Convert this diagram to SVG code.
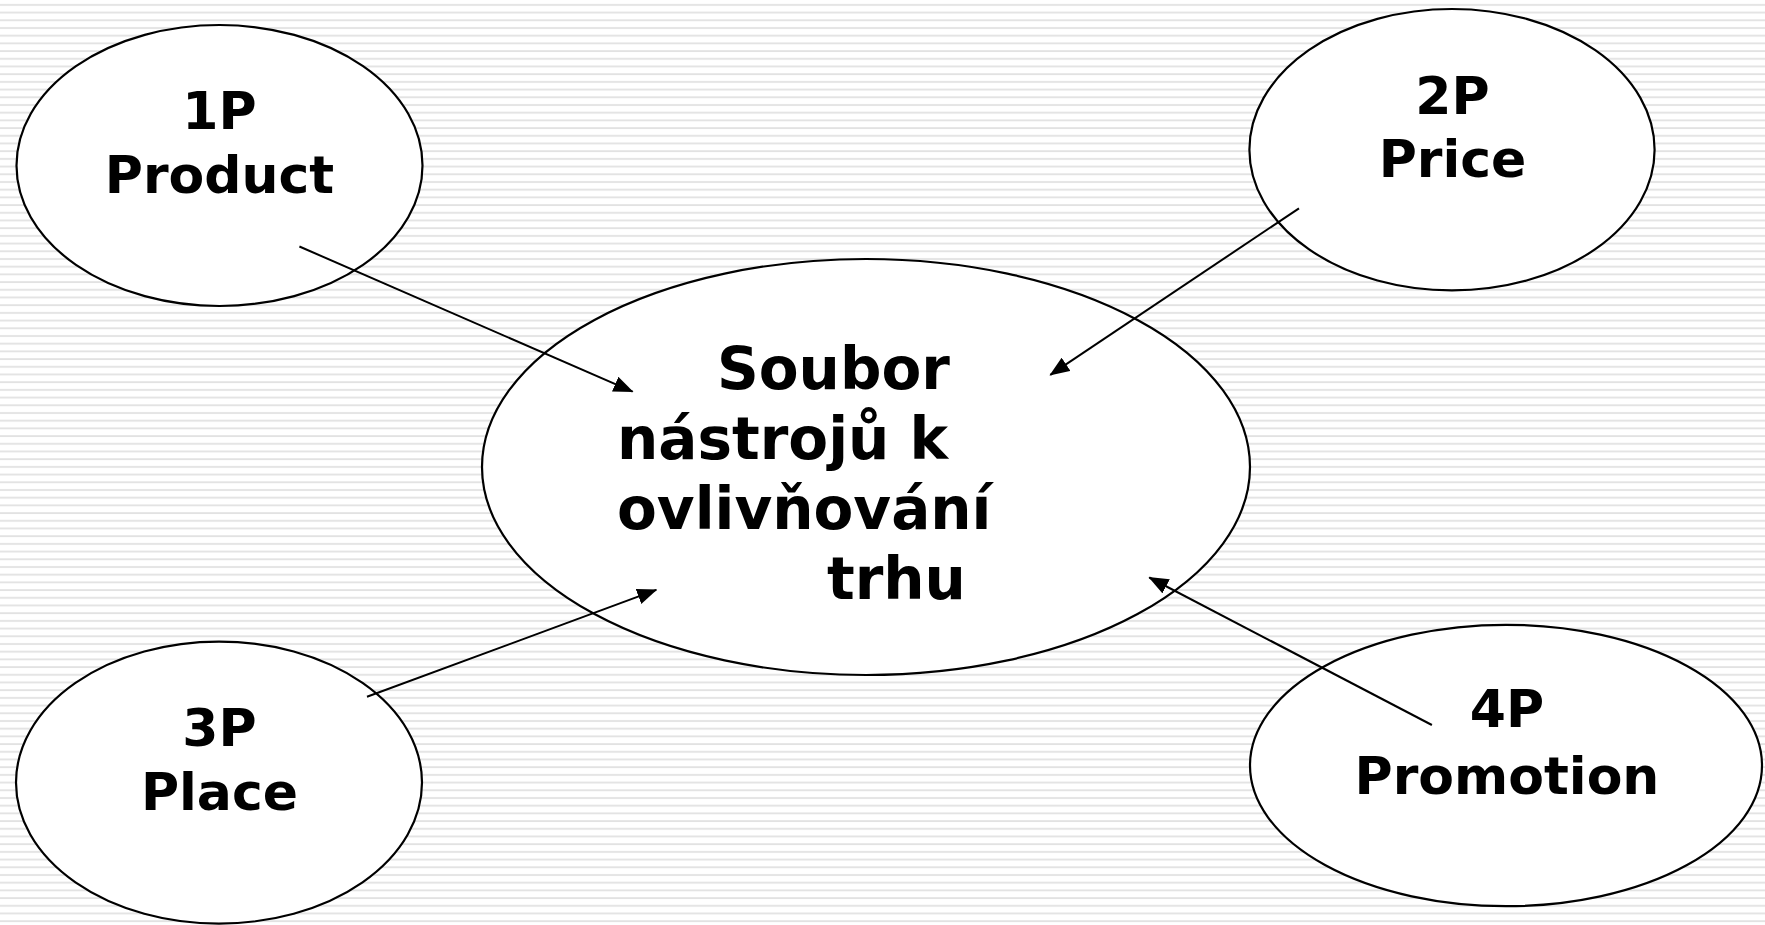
<svg xmlns="http://www.w3.org/2000/svg" width="1765" height="925" viewBox="0 0 1765 925">
<defs>
<pattern id="stripes" patternUnits="userSpaceOnUse" x="0" y="0" width="20" height="7.7">
<rect x="0" y="0" width="20" height="7.7" fill="#ffffff"/>
<rect x="0" y="4" width="20" height="1.8" fill="#e2e2e2"/>
</pattern>
<marker id="arr" viewBox="0 0 20 16" refX="19" refY="8" markerWidth="20" markerHeight="16" markerUnits="userSpaceOnUse" orient="auto">
<path d="M0,0 L20,8 L0,16 Z" fill="#000"/>
</marker>
<style>
.node ellipse{fill:#fff;stroke:#000;stroke-width:2.2}
.t{font-family:"DejaVu Sans","Verdana",sans-serif;font-weight:bold;fill:#000}
.s{font-size:52px;text-anchor:middle}
.c{font-size:58px}
.conn line{stroke:#000;stroke-width:2;marker-end:url(#arr)}
</style>
</defs>
<rect x="0" y="0" width="1765" height="925" fill="url(#stripes)"/>
<g id="node-center" class="node">
<ellipse cx="866" cy="467" rx="384" ry="208"/>
<text class="t c" x="717" y="389">Soubor</text>
<text class="t c" x="617" y="459">nástrojů k</text>
<text class="t c" x="617" y="529">ovlivňování</text>
<text class="t c" x="827" y="599">trhu</text>
</g>
<g id="node-1p" class="node">
<ellipse cx="219.5" cy="165.5" rx="203" ry="140.5"/>
<text class="t s" x="219.5" y="129">1P</text>
<text class="t s" x="219.5" y="193">Product</text>
</g>
<g id="node-2p" class="node">
<ellipse cx="1452" cy="149.7" rx="202.6" ry="140.7"/>
<text class="t s" x="1452.5" y="114">2P</text>
<text class="t s" x="1452.5" y="177">Price</text>
</g>
<g id="node-3p" class="node">
<ellipse cx="219" cy="782.6" rx="203" ry="141"/>
<text class="t s" x="219.5" y="746">3P</text>
<text class="t s" x="219.5" y="810">Place</text>
</g>
<g id="node-4p" class="node">
<ellipse cx="1506" cy="765.5" rx="256" ry="140.7"/>
<text class="t s" x="1507" y="727">4P</text>
<text class="t s" x="1507" y="794">Promotion</text>
</g>
<g id="connectors" class="conn">
<line x1="299.4" y1="246.5" x2="632.6" y2="391.7"/>
<line x1="1299" y1="208.3" x2="1050.3" y2="374.9"/>
<line x1="367" y1="696.8" x2="656.3" y2="589.9"/>
<line x1="1431.9" y1="725" x2="1149.3" y2="577.5"/>
</g>
</svg>
